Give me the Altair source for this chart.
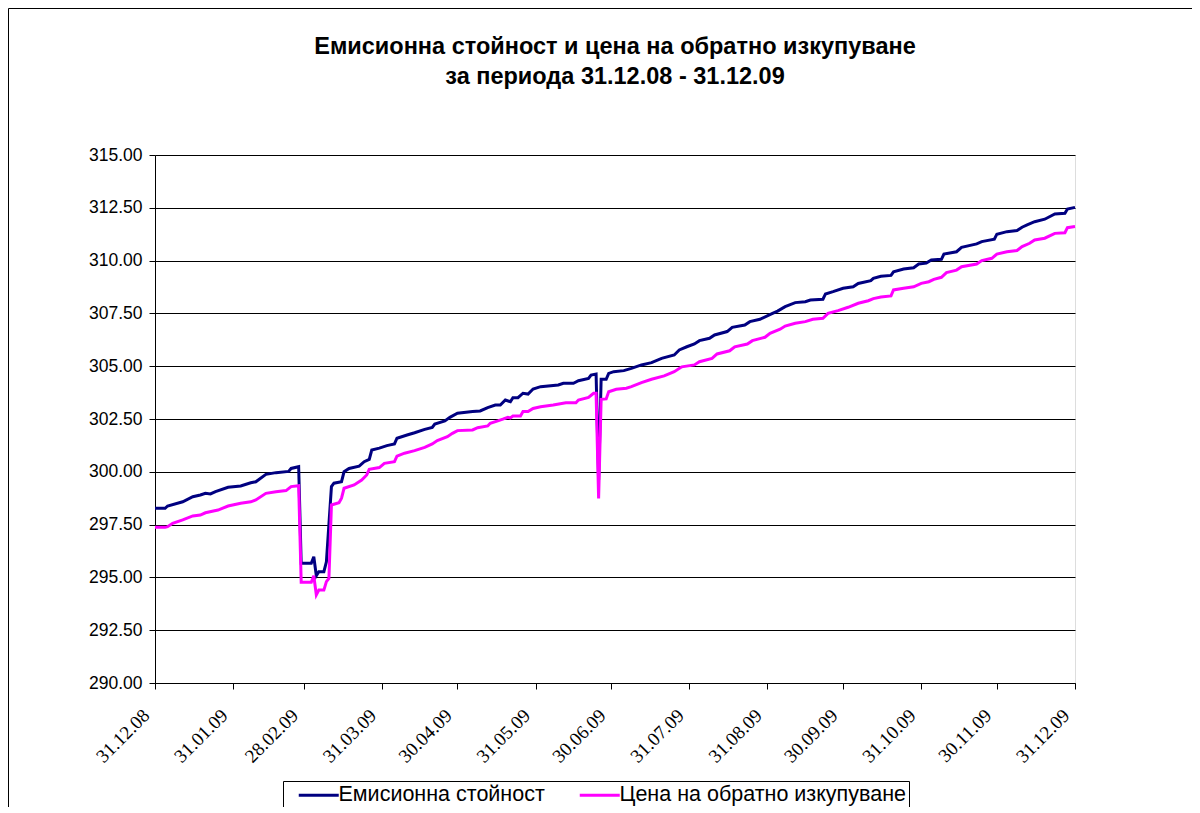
import altair as alt
import pandas as pd

SERIES_BLUE = "Емисионна стойност"
SERIES_PINK = "Цена на обратно изкупуване"

TITLE_LINES = ["Емисионна стойност и цена на обратно изкупуване",
               "за периода 31.12.08 - 31.12.09"]

blue_dates = [
    "2008-12-31", "2009-01-04", "2009-01-05", "2009-01-11", "2009-01-15", "2009-01-18",
    "2009-01-20", "2009-01-22", "2009-01-24", "2009-01-29", "2009-02-03", "2009-02-07",
    "2009-02-09", "2009-02-13", "2009-02-17", "2009-02-22", "2009-02-23", "2009-02-26",
    "2009-02-27", "2009-03-03", "2009-03-04", "2009-03-05", "2009-03-06", "2009-03-08",
    "2009-03-09", "2009-03-11", "2009-03-12", "2009-03-15", "2009-03-16", "2009-03-18",
    "2009-03-22", "2009-03-24", "2009-03-26", "2009-03-27", "2009-03-30", "2009-04-02",
    "2009-04-05", "2009-04-06", "2009-04-10", "2009-04-13", "2009-04-17", "2009-04-20",
    "2009-04-21", "2009-04-25", "2009-04-27", "2009-04-30", "2009-05-06", "2009-05-09",
    "2009-05-12", "2009-05-15", "2009-05-17", "2009-05-19", "2009-05-21", "2009-05-22",
    "2009-05-24", "2009-05-26", "2009-05-28", "2009-05-30", "2009-06-02", "2009-06-09",
    "2009-06-11", "2009-06-15", "2009-06-17", "2009-06-21", "2009-06-22", "2009-06-24",
    "2009-06-25", "2009-06-26", "2009-06-28", "2009-06-29", "2009-07-01", "2009-07-05",
    "2009-07-08", "2009-07-12", "2009-07-16", "2009-07-20", "2009-07-25", "2009-07-27",
    "2009-07-30", "2009-08-02", "2009-08-04", "2009-08-08", "2009-08-10", "2009-08-15",
    "2009-08-17", "2009-08-22", "2009-08-24", "2009-08-28", "2009-09-02", "2009-09-04",
    "2009-09-07", "2009-09-11", "2009-09-15", "2009-09-17", "2009-09-22", "2009-09-23",
    "2009-09-26", "2009-09-30", "2009-10-04", "2009-10-06", "2009-10-11", "2009-10-12",
    "2009-10-15", "2009-10-19", "2009-10-20", "2009-10-24", "2009-10-28", "2009-10-30",
    "2009-11-02", "2009-11-04", "2009-11-08", "2009-11-09", "2009-11-14", "2009-11-16",
    "2009-11-22", "2009-11-24", "2009-11-29", "2009-11-30", "2009-12-04", "2009-12-08",
    "2009-12-10", "2009-12-12", "2009-12-15", "2009-12-19", "2009-12-23", "2009-12-27",
    "2009-12-28", "2009-12-31",
]
blue_values = [
    298.27, 298.27, 298.38, 298.58, 298.82, 298.90,
    298.98, 298.95, 299.06, 299.27, 299.33, 299.48,
    299.53, 299.88, 299.96, 300.02, 300.16, 300.24,
    295.67, 295.67, 295.98, 295.08, 295.27, 295.27,
    295.74, 299.30, 299.46, 299.53, 300.00, 300.16,
    300.27, 300.48, 300.59, 301.03, 301.12, 301.24,
    301.32, 301.59, 301.74, 301.85, 302.01, 302.10,
    302.26, 302.41, 302.58, 302.77, 302.85, 302.88,
    303.04, 303.16, 303.16, 303.40, 303.32, 303.51,
    303.51, 303.72, 303.68, 303.92, 304.03, 304.11,
    304.19, 304.19, 304.31, 304.42, 304.58, 304.63,
    299.60, 304.38, 304.38, 304.66, 304.74, 304.79,
    304.90, 305.06, 305.17, 305.37, 305.53, 305.77,
    305.92, 306.05, 306.21, 306.32, 306.48, 306.64,
    306.84, 306.95, 307.11, 307.22, 307.50, 307.61,
    307.82, 308.01, 308.05, 308.13, 308.17, 308.42,
    308.53, 308.69, 308.76, 308.92, 309.05, 309.16,
    309.26, 309.30, 309.47, 309.60, 309.66, 309.84,
    309.88, 310.03, 310.06, 310.31, 310.42, 310.63,
    310.79, 310.90, 311.01, 311.25, 311.37, 311.42,
    311.58, 311.69, 311.84, 311.96, 312.21, 312.24,
    312.44, 312.52,
]

pink_dates = [
    "2008-12-31", "2009-01-04", "2009-01-05", "2009-01-07", "2009-01-11", "2009-01-15",
    "2009-01-18", "2009-01-20", "2009-01-25", "2009-01-29", "2009-02-03", "2009-02-07",
    "2009-02-09", "2009-02-13", "2009-02-17", "2009-02-21", "2009-02-23", "2009-02-26",
    "2009-02-27", "2009-03-03", "2009-03-04", "2009-03-05", "2009-03-06", "2009-03-08",
    "2009-03-09", "2009-03-10", "2009-03-11", "2009-03-14", "2009-03-15", "2009-03-16",
    "2009-03-20", "2009-03-23", "2009-03-25", "2009-03-26", "2009-03-30", "2009-04-01",
    "2009-04-05", "2009-04-06", "2009-04-09", "2009-04-13", "2009-04-17", "2009-04-20",
    "2009-04-22", "2009-04-26", "2009-04-28", "2009-04-30", "2009-05-06", "2009-05-08",
    "2009-05-12", "2009-05-13", "2009-05-16", "2009-05-18", "2009-05-20", "2009-05-21",
    "2009-05-22", "2009-05-25", "2009-05-26", "2009-05-28", "2009-05-30", "2009-06-02",
    "2009-06-07", "2009-06-12", "2009-06-16", "2009-06-17", "2009-06-21", "2009-06-23",
    "2009-06-24", "2009-06-25", "2009-06-26", "2009-06-28", "2009-06-29", "2009-07-02",
    "2009-07-06", "2009-07-08", "2009-07-12", "2009-07-16", "2009-07-21", "2009-07-25",
    "2009-07-28", "2009-08-02", "2009-08-04", "2009-08-09", "2009-08-11", "2009-08-16",
    "2009-08-18", "2009-08-23", "2009-08-25", "2009-08-30", "2009-09-01", "2009-09-05",
    "2009-09-07", "2009-09-11", "2009-09-15", "2009-09-18", "2009-09-22", "2009-09-24",
    "2009-09-28", "2009-10-02", "2009-10-06", "2009-10-10", "2009-10-12", "2009-10-15",
    "2009-10-19", "2009-10-20", "2009-10-24", "2009-10-28", "2009-10-31", "2009-11-03",
    "2009-11-05", "2009-11-08", "2009-11-10", "2009-11-14", "2009-11-16", "2009-11-22",
    "2009-11-24", "2009-11-28", "2009-11-30", "2009-12-04", "2009-12-08", "2009-12-10",
    "2009-12-13", "2009-12-15", "2009-12-19", "2009-12-23", "2009-12-27", "2009-12-28",
    "2009-12-31",
]
pink_values = [
    297.37, 297.37, 297.40, 297.56, 297.72, 297.91,
    297.95, 298.06, 298.19, 298.38, 298.51, 298.58,
    298.67, 298.98, 299.06, 299.11, 299.30, 299.34,
    294.77, 294.77, 295.08, 294.17, 294.40, 294.40,
    294.80, 294.95, 298.43, 298.54, 298.75, 299.22,
    299.38, 299.61, 299.85, 300.12, 300.20, 300.40,
    300.48, 300.74, 300.88, 301.00, 301.16, 301.32,
    301.48, 301.66, 301.82, 301.95, 301.98, 302.09,
    302.17, 302.30, 302.41, 302.49, 302.58, 302.55,
    302.64, 302.64, 302.85, 302.85, 303.00, 303.08,
    303.16, 303.27, 303.27, 303.40, 303.52, 303.72,
    303.72, 298.74, 303.43, 303.45, 303.79, 303.91,
    303.96, 304.03, 304.22, 304.38, 304.54, 304.74,
    304.97, 305.06, 305.21, 305.37, 305.58, 305.73,
    305.92, 306.05, 306.21, 306.37, 306.56, 306.75,
    306.90, 307.03, 307.11, 307.22, 307.27, 307.50,
    307.63, 307.79, 307.98, 308.10, 308.20, 308.28,
    308.33, 308.61, 308.69, 308.76, 308.92, 309.00,
    309.11, 309.21, 309.43, 309.55, 309.71, 309.84,
    310.00, 310.11, 310.31, 310.42, 310.48, 310.66,
    310.82, 310.98, 311.06, 311.29, 311.32, 311.56,
    311.61,
]

y_ticks = [290.0, 292.5, 295.0, 297.5, 300.0, 302.5, 305.0, 307.5, 310.0, 312.5, 315.0]
# month-end tick dates (year, month, day)
x_ticks = [(2008, 12, 31), (2009, 1, 31), (2009, 2, 28), (2009, 3, 31), (2009, 4, 30),
           (2009, 5, 31), (2009, 6, 30), (2009, 7, 31), (2009, 8, 31), (2009, 9, 30),
           (2009, 10, 31), (2009, 11, 30), (2009, 12, 31)]

df = pd.concat([
    pd.DataFrame({"date": blue_dates, "value": blue_values, "series": SERIES_BLUE}),
    pd.DataFrame({"date": pink_dates, "value": pink_values, "series": SERIES_PINK}),
], ignore_index=True)


def dt(t):
    return alt.DateTime(year=t[0], month=t[1], date=t[2], utc=True)


x_enc = alt.X(
    "date:T",
    title=None,
    scale=alt.Scale(type="utc", domain=[dt(x_ticks[0]), dt(x_ticks[-1])], nice=False),
    axis=alt.Axis(
        values=[dt(t) for t in x_ticks],
        labelExpr="utcFormat(datum.value, '%d.%m.%y')",
        labelAngle=315, labelAlign="right", labelBaseline="middle",
        labelFont="Liberation Serif", labelFontSize=19, labelColor="black",
        labelPadding=23, labelOffset=-9, tickSize=6, tickColor="black", domainColor="black",
        labelFlush=False, labelOverlap=False, grid=False,
    ),
)
y_enc = alt.Y(
    "value:Q",
    title=None,
    scale=alt.Scale(domain=[290, 315], nice=False, zero=False),
    axis=alt.Axis(
        values=y_ticks, format=".2f",
        labelFont="Liberation Sans", labelFontSize=17.5, labelColor="black",
        labelPadding=7, tickSize=6, tickColor="black", domainColor="black",
        grid=True, gridColor="black", gridWidth=1, gridOpacity=1,
        labelFlush=False, labelOverlap=False,
    ),
)
color_enc = alt.Color(
    "series:N",
    scale=alt.Scale(domain=[SERIES_BLUE, SERIES_PINK], range=["#000080", "#FF00FF"]),
    legend=alt.Legend(
        orient="none", legendX=128, legendY=626, direction="horizontal", title=None,
        strokeColor="black", fillColor="white", padding=3,
        symbolType="M-4,0H4", symbolSize=100, symbolStrokeWidth=3, symbolOffset=22,
        labelFont="Liberation Sans", labelFontSize=21.5, labelColor="black",
        labelLimit=500, labelOffset=9, columnPadding=22,
    ),
)

base = alt.Chart(df)
blue_line = base.transform_filter(alt.datum.series == SERIES_BLUE).mark_line(
    strokeWidth=3).encode(x=x_enc, y=y_enc, color=color_enc)
pink_line = base.transform_filter(alt.datum.series == SERIES_PINK).mark_line(
    strokeWidth=3).encode(x=x_enc, y=y_enc, color=color_enc)

frame = alt.Chart(pd.DataFrame({"k": [0]})).mark_rect(
    fillOpacity=0, stroke="black", strokeWidth=1
).encode(x=alt.value(-146.5), x2=alt.value(1100), y=alt.value(-146.5), y2=alt.value(800))

chart = alt.layer(frame, blue_line, pink_line).properties(
    width=920,
    height=528,
    autosize=alt.AutoSizeParams(type="none"),
    padding={"left": 147, "top": 147, "right": 117, "bottom": 124},
    title=alt.TitleParams(
        text=TITLE_LINES, font="Liberation Sans", fontSize=23.5, fontWeight="bold",
        color="black", anchor="middle", lineHeight=30, offset=-80,
    ),
).configure_view(stroke="#808080", strokeWidth=1).configure(background="white")

chart.save("out.html", embed_options={"renderer": "svg", "actions": False})
